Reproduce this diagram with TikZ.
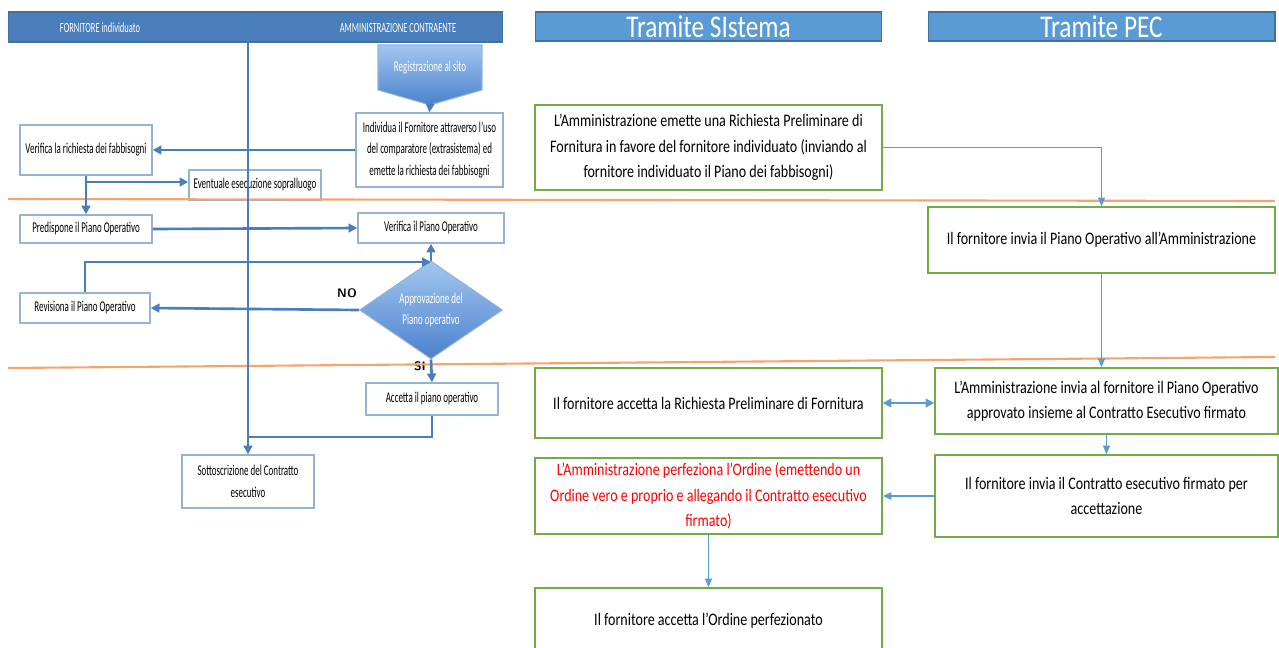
\documentclass[tikz,border=0pt]{standalone}
\usepackage{fontspec}
\usepackage{tikz}
\usetikzlibrary{shapes.geometric,arrows.meta,positioning}

\newfontfamily\lanefont[FakeStretch=0.6]{Carlito}
\newfontfamily\flowfont[FakeStretch=0.8]{Carlito}

\definecolor{laneblue}{HTML}{4A7EBB}
\definecolor{laneborder}{HTML}{95B3D7}
\definecolor{hdrblue}{HTML}{5B9BD5}
\definecolor{hdrdark}{HTML}{41719C}
\definecolor{boxgreen}{HTML}{70AD47}
\definecolor{sepor}{HTML}{F4A46E}
\definecolor{shadetop}{HTML}{A3C6F0}
\definecolor{shadebot}{HTML}{4A82CC}

\tikzset{
  lbox/.style={draw=laneborder, line width=0.8pt, fill=white, align=center,
    font=\lanefont\fontsize{8.5}{12.5}\selectfont, inner sep=1pt},
  rbox/.style={draw=boxgreen, line width=0.8pt, align=center,
    font=\flowfont\fontsize{10}{14.5}\selectfont, inner sep=1pt},
  lflow/.style={draw=laneblue, line width=1.5pt, -{Triangle[length=5pt,width=5pt]}},
  rflow/.style={draw=hdrblue, line width=0.7pt, -{Triangle[length=5pt,width=4pt]}},
  septrack/.style={draw=sepor, line width=1.2pt},
}

\begin{document}
\begin{tikzpicture}[x=0.02cm, y=-0.02cm, semithick]
  \useasboundingbox (0,0) rectangle (1279,647);

  % swimlane header
  \node[fill=laneblue, draw=hdrdark, minimum width=9.9cm, minimum height=0.6cm] (hdrBar) at (255.5,27) {};
  \node[text=white, font=\lanefont\fontsize{8}{9}\selectfont] (hdrForn) at (100,28) {FORNITORE individuato};
  \node[text=white, font=\lanefont\fontsize{8}{9}\selectfont] (hdrAmm) at (398,28) {AMMINISTRAZIONE CONTRAENTE};

  % registrazione
  \shade[top color=shadetop, bottom color=shadebot, draw=laneborder]
    (378,45) -- (482,45) -- (482,90) -- (430,105) -- (378,90) -- cycle;
  \coordinate (regTip) at (430,105);
  \node[text=white, font=\lanefont\fontsize{8.5}{10}\selectfont] (regSito) at (430,68) {Registrazione al sito};

  \node[lbox, minimum width=2.94cm, minimum height=1.48cm] (individua) at (429.5,150)
    {Individua il Fornitore  attraverso l’uso\\del comparatore (extrasistema) ed\\emette  la richiesta dei fabbisogni};
  \node[lbox, minimum width=2.64cm, minimum height=1cm] (verRich) at (86,150) {Verifica la richiesta dei fabbisogni};
  \node[lbox, fill=none, minimum width=2.64cm, minimum height=0.6cm] (sopral) at (255,185) {Eventuale esecuzione sopralluogo};
  \node[lbox, minimum width=2.64cm, minimum height=0.56cm] (predisp) at (86,229) {Predispone il Piano Operativo};
  \node[lbox, minimum width=2.92cm, minimum height=0.6cm] (verPiano) at (431,228) {Verifica il Piano Operativo};
  \node[diamond, top color=shadetop, bottom color=shadebot, draw=laneborder, inner sep=0pt,
        minimum width=2.86cm, minimum height=1.68cm, align=center, text=white,
        font=\lanefont\fontsize{8.5}{12.5}\selectfont] (approv) at (431,310) {Approvazione  del\\Piano operativo};
  \node[lbox, minimum width=2.6cm, minimum height=0.6cm] (revis) at (85,308) {Revisiona il Piano Operativo};
  \node[lbox, minimum width=2.64cm, minimum height=0.64cm] (accetta) at (432,399) {Accetta il piano operativo};
  \node[lbox, minimum width=2.64cm, minimum height=1.06cm] (sottoscr) at (248,481.5) {Sottoscrizione del Contratto\\esecutivo};

  \node[font=\sffamily\bfseries\fontsize{7}{8}\selectfont] (labNo) at (347,293) {NO};
  \node[font=\sffamily\bfseries\fontsize{7}{8}\selectfont] (labSi) at (420,366) {SI};

  % separators
  \coordinate (sepA) at (8,199);
  \coordinate (sepB) at (1275,201);
  \coordinate (sepC) at (8,368);
  \coordinate (sepD) at (1275,357);
  \draw[septrack] (sepA) -- (sepB);
  \draw[septrack] (sepC) -- (sepD);

  % left flow
  \coordinate (laneTop) at (248,12);
  \coordinate (loopJoin) at (431,262);
  \coordinate (laneJoin) at (248,437);
  \draw[lflow] (laneTop) -- (sottoscr.north);
  \draw[lflow, line width=1pt] (regTip) -- (individua.north);
  \draw[lflow] (individua.west) -- (verRich.east);
  \draw[lflow] (verRich.south) -- (predisp.north);
  \draw[lflow] (verRich.south |- 0,182) -- (sopral.west |- 0,182);
  \draw[lflow] (predisp.east) -- (verPiano.west);
  \draw[lflow] (revis.north) |- (loopJoin);
  \draw[lflow] (approv.north) -- (verPiano.south);
  \draw[lflow] (approv.west) -- (revis.east);
  \draw[lflow] (approv.south) -- (accetta.north);
  \draw[draw=laneblue, line width=1.5pt] (accetta.south) |- (laneJoin);

  % right side
  \node[fill=hdrblue, draw=hdrdark, minimum width=6.94cm, minimum height=0.58cm, text=white,
        font=\flowfont\fontsize{18}{20}\selectfont, inner sep=0pt] (sistema) at (708.5,26.5) {Tramite SIstema};
  \node[fill=hdrblue, draw=hdrdark, minimum width=6.94cm, minimum height=0.58cm, text=white,
        font=\flowfont\fontsize{18}{20}\selectfont, inner sep=0pt] (pec) at (1101.5,26.5) {Tramite PEC};

  \node[rbox, minimum width=6.94cm, minimum height=1.7cm] (emette) at (708.5,147.5)
    {L’Amministrazione emette  una Richiesta Preliminare di\\Fornitura  in favore del fornitore individuato (inviando al\\fornitore individuato il Piano dei fabbisogni)};
  \node[rbox, minimum width=6.94cm, minimum height=1.32cm] (inviaPiano) at (1101.5,240)
    {Il fornitore invia il Piano Operativo all’Amministrazione};
  \node[rbox, minimum width=6.86cm, minimum height=1.32cm] (inviaContr) at (1106.5,401)
    {L’Amministrazione invia al fornitore il Piano Operativo\\approvato insieme al Contratto Esecutivo firmato};
  \node[rbox, minimum width=6.94cm, minimum height=1.4cm] (accRich) at (708.5,403)
    {Il  fornitore accetta la Richiesta Preliminare di Fornitura};
  \node[rbox, minimum width=6.86cm, minimum height=1.64cm] (inviaFirm) at (1106.5,496)
    {Il  fornitore invia il Contratto esecutivo firmato per\\accettazione};
  \node[rbox, text=red, minimum width=6.94cm, minimum height=1.52cm] (perfez) at (708.5,496)
    {L’Amministrazione perfeziona l’Ordine (emettendo  un\\Ordine vero e proprio e  allegando il Contratto esecutivo\\firmato)};
  \node[rbox, minimum width=6.94cm, minimum height=1.32cm] (accOrd) at (708.5,621)
    {Il  fornitore accetta l’Ordine perfezionato};

  \draw[rflow] (emette.east) -| (inviaPiano.north);
  \draw[rflow] (inviaPiano.south) -- (inviaPiano.south |- inviaContr.north);
  \draw[rflow, line width=1.2pt, {Triangle[length=5pt,width=5pt]}-{Triangle[length=5pt,width=5pt]}]
    (accRich.east) -- (accRich.east -| inviaContr.west);
  \draw[rflow] (inviaContr.south) -- (inviaContr.south |- inviaFirm.north);
  \draw[rflow, line width=1.2pt] (inviaFirm.west) -- (inviaFirm.west -| perfez.east);
  \draw[rflow] (perfez.south) -- (accOrd.north);
\end{tikzpicture}
\end{document}
